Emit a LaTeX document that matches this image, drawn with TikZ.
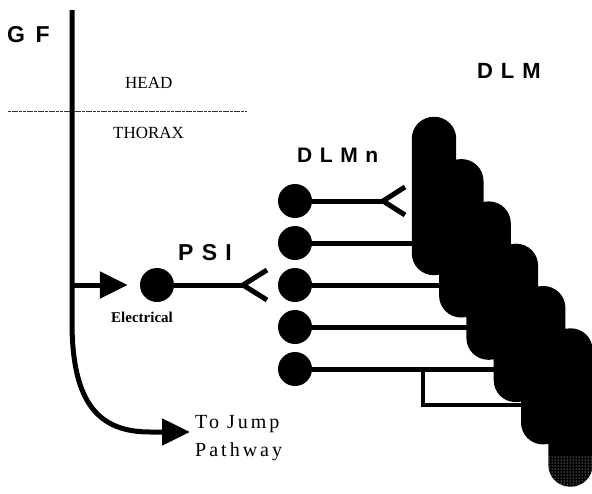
\documentclass[tikz,border=0pt]{standalone}
\usepackage{fontspec}
\setmainfont{Liberation Serif}
\newfontfamily\hvsp{Liberation Sans}[LetterSpace=36]
\newfontfamily\hvgf{Liberation Sans}[LetterSpace=18]
\newfontfamily\tmsp{Liberation Serif}[LetterSpace=15]
\usetikzlibrary{arrows.meta,patterns}
\begin{document}
\begin{tikzpicture}[x=1pt,y=-1pt,
  lbl/.style={inner sep=0pt,anchor=base west},
  big/.style={lbl,font=\hvsp\bfseries\fontsize{22}{22}\selectfont},
  serif/.style={lbl,font=\fontsize{17}{17}\selectfont},
  fiber/.style={minimum width=44pt,minimum height=158pt,inner sep=0pt},
  cell/.style={circle,fill=black,minimum size=34pt,inner sep=0pt},
  axon/.style={line width=5pt,line cap=butt,line join=miter},
  gfl/.style={line width=5pt},
  tip/.style={-{Triangle[length=28pt,width=26pt]}}
]
\useasboundingbox (0,0) rectangle (592,493);
% muscle fibres (named frames, filled as one union)
\foreach \i in {1,...,6}{
  \node[fiber] (f\i) at ({434+27.3*(\i-1)},{196+42.3*(\i-1)}) {};
}
\fill[black,rounded corners=21.9pt]
  (f1.south west) rectangle (f1.north east)
  (f2.south west) rectangle (f2.north east)
  (f3.south west) rectangle (f3.north east)
  (f4.south west) rectangle (f4.north east)
  (f5.south west) rectangle (f5.north east)
  (f6.south west) rectangle (f6.north east);
\begin{scope}
  \clip[rounded corners=21.9pt] (f6.south west) rectangle (f6.north east);
  \fill[pattern=dots,pattern color=white] (545,456) rectangle (600,495);
\end{scope}
% labels
\node[lbl,font=\hvgf\bfseries\fontsize{23}{23}\selectfont] (gft) at (7,42) {G F};
\node[big] (dlm) at (477,78) {DLM};
\node[big,font=\hvsp\bfseries\fontsize{21}{21}\selectfont] (dlmn) at (297,162) {DLMn};
\node[big,font=\hvsp\bfseries\fontsize{23}{23}\selectfont] (psil) at (178,260) {PSI};
\node[serif] (head) at (125,88) {HEAD};
\node[serif] (thorax) at (113,138) {THORAX};
\node[lbl,font=\bfseries\fontsize{15}{15}\selectfont] (elec) at (111,322) {Electrical};
\node[lbl,font=\tmsp\fontsize{20}{20}\selectfont] (tj) at (195,428) {To Jump};
\node[lbl,font=\tmsp\fontsize{20}{20}\selectfont] (pw) at (195,456) {Pathway};
% head/thorax border
\coordinate (d1) at (8,111);
\coordinate (d2) at (247,111);
\draw[line width=1pt,black!80,dash pattern=on 3pt off 0.7pt] (d1) -- (d2);
% GF neuron
\coordinate (gftop) at (72,10);
\coordinate (br) at (72,285);
\coordinate (jump) at (190,432);
\node[cell] (psi) at (157,285) {};
\draw[gfl,tip] (gftop) -- (br) -- (72,322) .. controls (72,405) and (100,432) .. (150,432) -- (jump);
\draw[gfl,tip] (br) -- ([xshift=-12pt]psi.west);
% PSI axon and synapse
\coordinate (pf) at (243,285);
\draw[axon] (psi) -- (pf);
\draw[axon] (267,270) -- (pf) -- (267,300);
% DLM motor neurons
\foreach \i/\y in {1/201,2/243,3/285,4/327,5/369}{
  \node[cell] (m\i) at (295,\y) {};
}
\coordinate (mf) at (383,201);
\draw[axon] (m1) -- (mf);
\draw[axon] (405,187) -- (mf) -- (405,215);
\draw[axon] (m2) -- ([xshift=5pt]m2 -| f1.west);
\draw[axon] (m3) -- ([xshift=5pt]m3 -| f2.west);
\draw[axon] (m4) -- ([xshift=5pt]m4 -| f3.west);
\draw[axon] (m5) -- ([xshift=5pt]m5 -| f4.west);
\coordinate (b1) at (423,369);
\coordinate (b2) at (525,405);
\draw[line width=4.5pt] (b1) |- (b2);
\end{tikzpicture}
\end{document}
